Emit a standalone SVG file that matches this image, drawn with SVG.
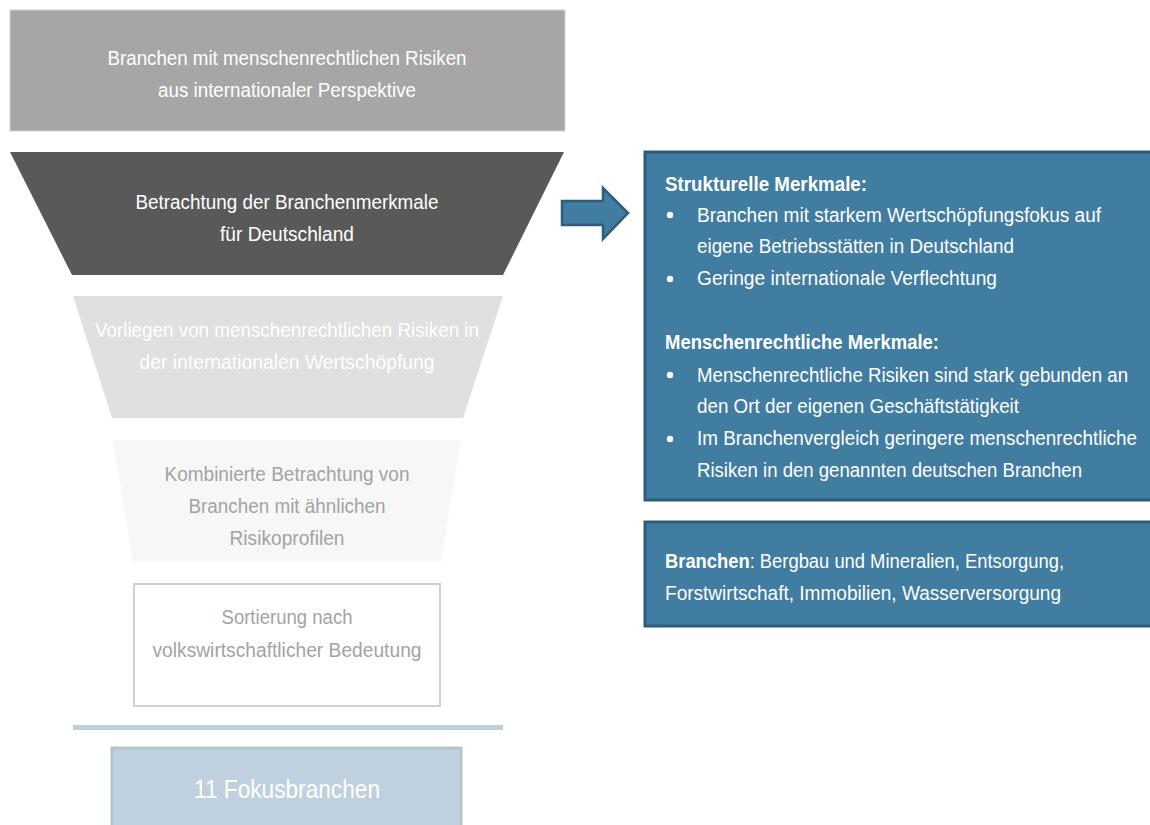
<svg xmlns="http://www.w3.org/2000/svg" width="1150" height="825" viewBox="0 0 1150 825">
<style>
text{font-family:"Liberation Sans",Arial,sans-serif;font-size:20px}
.c{text-anchor:middle}
.w{fill:#ffffff}
.g{fill:#a3a3a3}
.b{font-weight:bold}
.blue{fill:#417ca1;stroke:#2e5c7a;stroke-width:3}
</style>
<rect width="1150" height="825" fill="#ffffff"/>
<g id="connectors">
<path d="M562,201 H603 V188 L628,213 L603,239 V225 H562 Z" fill="#417ca1" stroke="#2e5c7a" stroke-width="2.5" stroke-linejoin="miter"/>
<line x1="73" y1="727.5" x2="503" y2="727.5" stroke="#bcd0dd" stroke-width="5"/>
</g>
<g id="n1">
<rect x="10" y="10" width="555" height="121" fill="#a6a6a6" stroke="#d2d2d2" stroke-width="1"/>
<text class="c w" x="287" y="65" textLength="359" lengthAdjust="spacingAndGlyphs">Branchen mit menschenrechtlichen Risiken</text>
<text class="c w" x="287" y="97" textLength="258" lengthAdjust="spacingAndGlyphs">aus internationaler Perspektive</text>
</g>
<g id="n2">
<polygon points="10,152 564,152 503,275 72,275" fill="#595959"/>
<text class="c w" x="287" y="209" textLength="303" lengthAdjust="spacingAndGlyphs">Betrachtung der Branchenmerkmale</text>
<text class="c w" x="287" y="241" textLength="134" lengthAdjust="spacingAndGlyphs">für Deutschland</text>
</g>
<g id="n3">
<polygon points="73,296 503,296 463,418 112,418" fill="#e0e0e0"/>
<text class="c w" x="287" y="337" textLength="384" lengthAdjust="spacingAndGlyphs">Vorliegen von menschenrechtlichen Risiken in</text>
<text class="c w" x="287" y="369" textLength="295" lengthAdjust="spacingAndGlyphs">der internationalen Wertschöpfung</text>
</g>
<g id="n4">
<polygon points="113,440 461,440 441,562 133,562" fill="#f7f7f7"/>
<text class="c g" x="287" y="481" textLength="245" lengthAdjust="spacingAndGlyphs">Kombinierte Betrachtung von</text>
<text class="c g" x="287" y="513" textLength="197" lengthAdjust="spacingAndGlyphs">Branchen mit ähnlichen</text>
<text class="c g" x="287" y="545" textLength="115" lengthAdjust="spacingAndGlyphs">Risikoprofilen</text>
</g>
<g id="n5">
<rect x="134" y="584" width="306" height="122" fill="#ffffff" stroke="#d0d0d0" stroke-width="2"/>
<text class="c g" x="287" y="624" textLength="131" lengthAdjust="spacingAndGlyphs">Sortierung nach</text>
<text class="c g" x="287" y="657" textLength="269" lengthAdjust="spacingAndGlyphs">volkswirtschaftlicher Bedeutung</text>
</g>
<g id="n6">
<rect x="112" y="748" width="349" height="82" fill="#bfd1de" stroke="#b2c4d0" stroke-width="3"/>
<text class="c w" x="287" y="798" style="font-size:25px" textLength="186" lengthAdjust="spacingAndGlyphs">11 Fokusbranchen</text>
</g>
<g id="n7">
<rect x="645" y="152" width="510" height="348" class="blue"/>
<text class="w b" x="665" y="191" textLength="202" lengthAdjust="spacingAndGlyphs">Strukturelle Merkmale:</text>
<circle cx="670" cy="215" r="3.2" fill="#fff"/>
<text class="w" x="697" y="222" textLength="404" lengthAdjust="spacingAndGlyphs">Branchen mit starkem Wertschöpfungsfokus auf</text>
<text class="w" x="697" y="253" textLength="317" lengthAdjust="spacingAndGlyphs">eigene Betriebsstätten in Deutschland</text>
<circle cx="670" cy="279" r="3.2" fill="#fff"/>
<text class="w" x="697" y="285" textLength="300" lengthAdjust="spacingAndGlyphs">Geringe internationale Verflechtung</text>
<text class="w b" x="665" y="349" textLength="274" lengthAdjust="spacingAndGlyphs">Menschenrechtliche Merkmale:</text>
<circle cx="670" cy="375" r="3.2" fill="#fff"/>
<text class="w" x="697" y="382" textLength="431" lengthAdjust="spacingAndGlyphs">Menschenrechtliche Risiken sind stark gebunden an</text>
<text class="w" x="697" y="413" textLength="322" lengthAdjust="spacingAndGlyphs">den Ort der eigenen Geschäftstätigkeit</text>
<circle cx="670" cy="439" r="3.2" fill="#fff"/>
<text class="w" x="697" y="445" textLength="440" lengthAdjust="spacingAndGlyphs">Im Branchenvergleich geringere menschenrechtliche</text>
<text class="w" x="697" y="477" textLength="385" lengthAdjust="spacingAndGlyphs">Risiken in den genannten deutschen Branchen</text>
</g>
<g id="n8">
<rect x="645" y="522" width="510" height="104" class="blue"/>
<text class="w" x="665" y="568" textLength="399" lengthAdjust="spacingAndGlyphs"><tspan class="b">Branchen</tspan>: Bergbau und Mineralien, Entsorgung,</text>
<text class="w" x="665" y="600" textLength="396" lengthAdjust="spacingAndGlyphs">Forstwirtschaft, Immobilien, Wasserversorgung</text>
</g>
</svg>
